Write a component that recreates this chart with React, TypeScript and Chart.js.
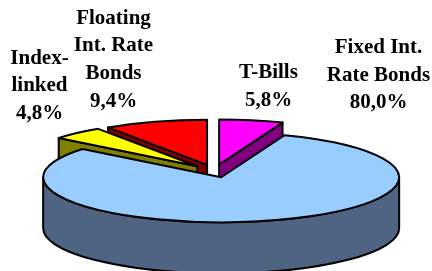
import React, { useEffect, useRef } from "react";
import { Chart, registerables } from "chart.js";

Chart.register(...registerables);

// ---- data ----
const categories = ["T-Bills", "Fixed Int. Rate Bonds", "Index-linked", "Floating Int. Rate Bonds"];
const shares = [5.8, 80.0, 4.8, 9.4];
const labelNameLines = [["T-Bills"], ["Fixed Int.", "Rate Bonds"], ["Index-", "linked"], ["Floating", "Int. Rate", "Bonds"]];

// ---- styles ----
const topColors = ["#FF00FF", "#99CCFF", "#FFFF00", "#FF0000"];
const sideColors = ["#800080", "#4F6482", "#808000", "#800000"];
// label anchor: [center x, first baseline y]
const labelAnchors: [number, number][] = [[268.5, 78], [378.5, 53], [39.5, 63.5], [113.5, 23.5]];
const LINE_H = 27.7;
const TILT = 0.253;
const DEPTH = 51;

const fmt = (v: number) => v.toFixed(1).replace(".", ",") + "%";

const pie3d = {
  id: "pie3d",
  beforeDatasetsDraw(chart: any) {
    const meta = chart.getDatasetMeta(0);
    const ctx: CanvasRenderingContext2D = chart.ctx;
    const items = meta.data.map((arc: any, i: number) => {
      const p = arc.getProps(["x", "y", "startAngle", "endAngle", "outerRadius"], true);
      const off = arc.options.offset || 0;
      const mid = (p.startAngle + p.endAngle) / 2;
      return {
        i,
        cx: p.x + off * Math.cos(mid),
        cy: p.y + off * TILT * Math.sin(mid),
        R: p.outerRadius,
        s: p.startAngle,
        e: p.endAngle,
        mid,
        top: arc.options.backgroundColor,
      };
    });
    items.sort((a: any, b: any) => Math.sin(a.mid) - Math.sin(b.mid));
    ctx.save();
    ctx.lineWidth = 2;
    ctx.strokeStyle = "#000";
    ctx.lineJoin = "round";
    for (const it of items) {
      const ry = it.R * TILT;
      const pt = (a: number) => [it.cx + it.R * Math.cos(a), it.cy + ry * Math.sin(a)];
      ctx.fillStyle = sideColors[it.i];
      const faces: number[] = [];
      if (Math.cos(it.s) < -1e-6) faces.push(it.s);
      if (Math.cos(it.e) > 1e-6) faces.push(it.e);
      for (const a of faces) {
        const [x1, y1] = pt(a);
        ctx.beginPath();
        ctx.moveTo(it.cx, it.cy);
        ctx.lineTo(x1, y1);
        ctx.lineTo(x1, y1 + DEPTH);
        ctx.lineTo(it.cx, it.cy + DEPTH);
        ctx.closePath();
        ctx.fill();
        ctx.stroke();
      }
      const a1 = Math.max(it.s, 0);
      const a2 = Math.min(it.e, Math.PI);
      if (a2 > a1) {
        ctx.beginPath();
        ctx.ellipse(it.cx, it.cy, it.R, ry, 0, a1, a2, false);
        ctx.ellipse(it.cx, it.cy + DEPTH, it.R, ry, 0, a2, a1, true);
        ctx.closePath();
        ctx.fill();
        ctx.stroke();
      }
      ctx.fillStyle = it.top;
      ctx.beginPath();
      ctx.moveTo(it.cx, it.cy);
      ctx.ellipse(it.cx, it.cy, it.R, ry, 0, it.s, it.e, false);
      ctx.closePath();
      ctx.fill();
      ctx.stroke();
    }
    ctx.restore();
    return false;
  },
  afterDraw(chart: any) {
    const ctx: CanvasRenderingContext2D = chart.ctx;
    ctx.save();
    ctx.fillStyle = "#000";
    ctx.font = "bold 21px 'Liberation Serif'";
    ctx.textAlign = "center";
    ctx.textBaseline = "alphabetic";
    categories.forEach((_, i) => {
      const lines = [...labelNameLines[i], fmt(shares[i])];
      const [x, y0] = labelAnchors[i];
      lines.forEach((ln, j) => ctx.fillText(ln, x, y0 + j * LINE_H));
    });
    ctx.restore();
  },
};

export default function App() {
  const ref = useRef<HTMLCanvasElement | null>(null);
  useEffect(() => {
    if (!ref.current) return;
    const chart = new Chart(ref.current, {
      type: "pie",
      data: {
        labels: categories,
        datasets: [
          {
            data: shares,
            backgroundColor: topColors,
            borderColor: "#000",
            borderWidth: 2,
            offset: 25.5,
          },
        ],
      },
      options: {
        animation: false,
        responsive: false,
        events: [],
        rotation: 0,
        radius: 178,
        layout: { padding: { top: 71, right: 3, left: 0, bottom: 0 } },
        plugins: { legend: { display: false }, tooltip: { enabled: false } },
      } as any,
      plugins: [pie3d as any],
    });
    return () => chart.destroy();
  }, []);
  return (
    <div style={{ position: "absolute", left: 0, top: 0, width: 432, height: 271, background: "#fff" }}>
      <canvas ref={ref} width={432} height={271} style={{ display: "block" }} />
    </div>
  );
}
